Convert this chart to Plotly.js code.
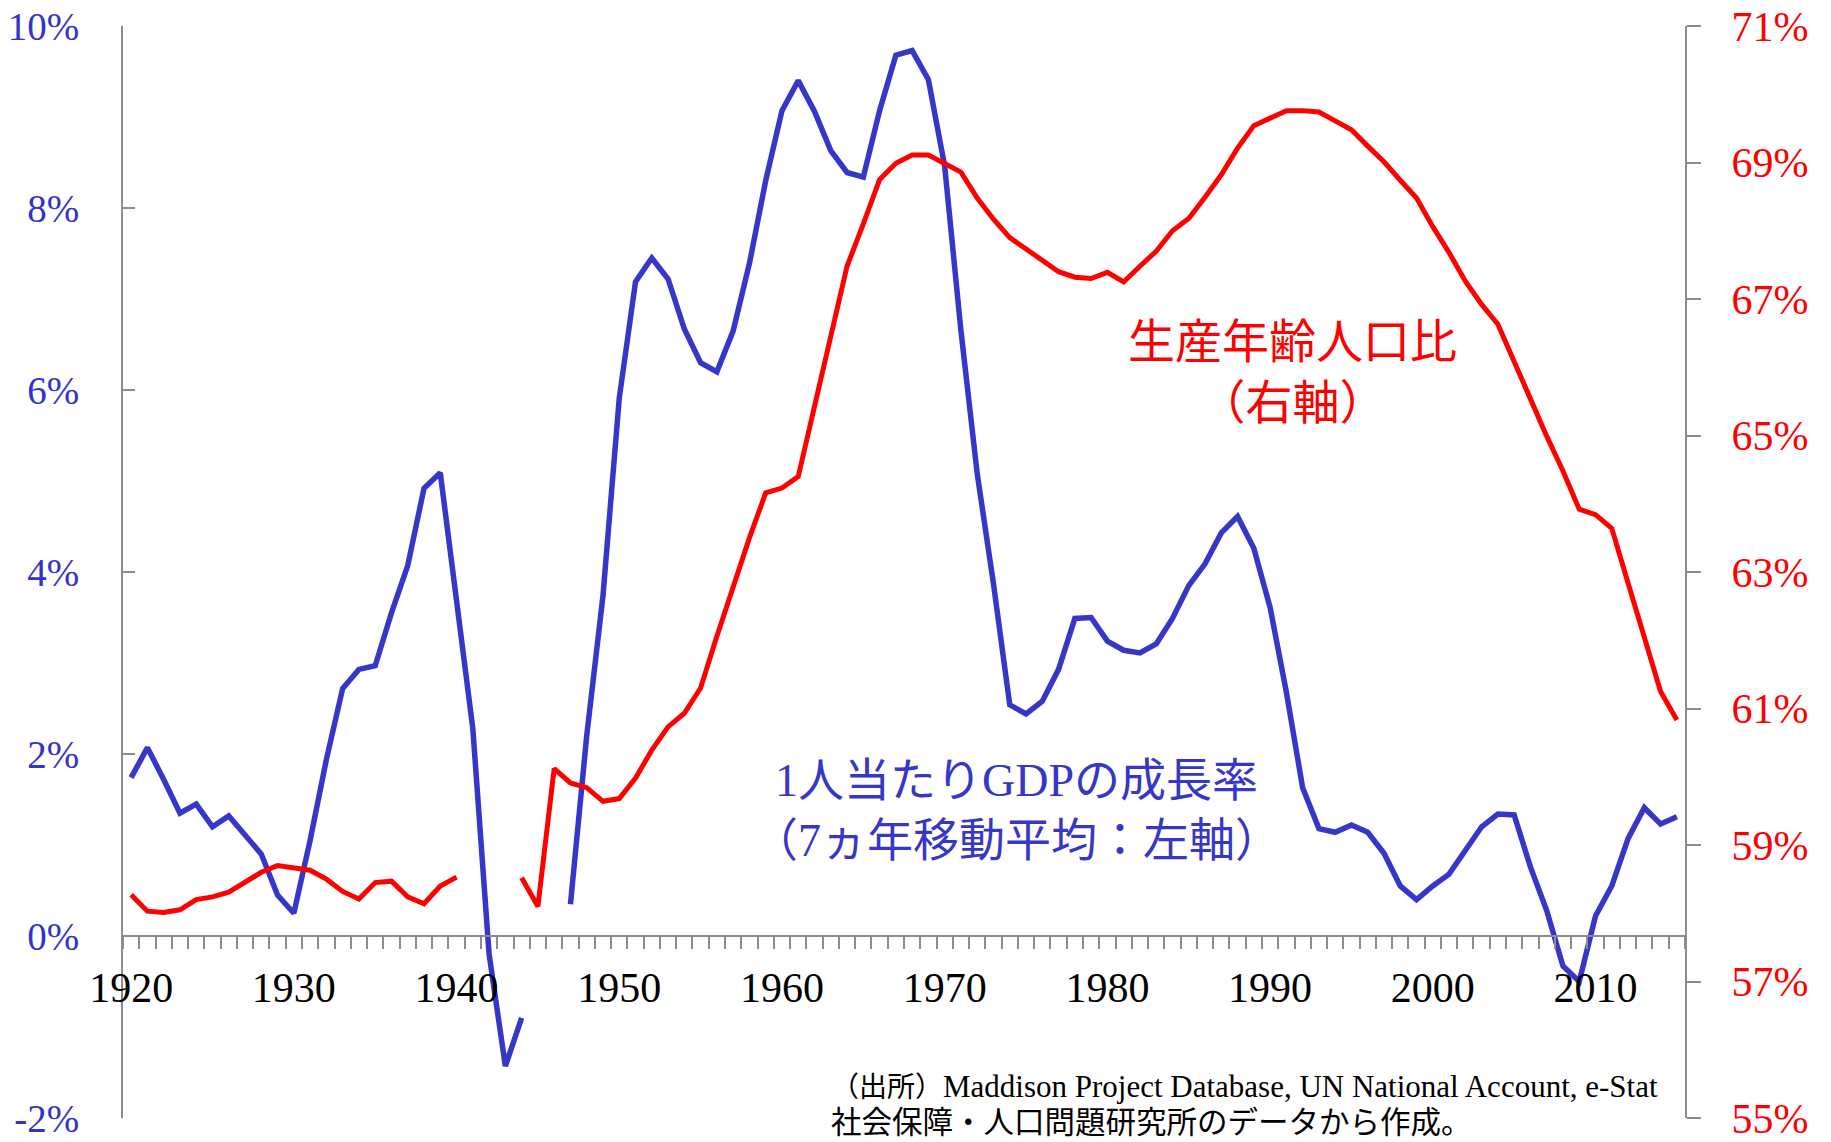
<!DOCTYPE html>
<html>
<head>
<meta charset="utf-8">
<script src="https://cdn.plot.ly/plotly-3.0.1.min.js"></script>
<style>
  html, body { margin: 0; padding: 0; background: #ffffff; }
  #chart { width: 1831px; height: 1142px; }
</style>
</head>
<body>
<div id="chart"></div>
<script>
// ---- data ----
const firstYear = 1920;
const lastYear = 2015;
const years = [];
for (let y = firstYear; y <= lastYear; y++) years.push(y);

// 1人当たりGDPの成長率（7ヵ年移動平均, %）  1920–2015
const gdpGrowth = [
  1.74, 2.07, 1.72, 1.35, 1.45, 1.20, 1.32, 1.10, 0.90, 0.45,   // 1920-1929
  0.25, 1.05, 1.94, 2.72, 2.93, 2.97, 3.55, 4.07, 4.92, 5.09,   // 1930-1939
  3.70, 2.28, -0.20, -1.43, -0.90, null, null, 0.35, 2.20, 3.74, // 1940-1949
  5.91, 7.19, 7.45, 7.22, 6.67, 6.30, 6.20, 6.65, 7.39, 8.30,   // 1950-1959
  9.07, 9.40, 9.06, 8.63, 8.39, 8.34, 9.07, 9.68, 9.73, 9.41,   // 1960-1969
  8.46, 6.65, 5.08, 3.87, 2.54, 2.44, 2.58, 2.93, 3.49, 3.50,   // 1970-1979
  3.24, 3.14, 3.11, 3.21, 3.49, 3.85, 4.09, 4.43, 4.61, 4.26,   // 1980-1989
  3.61, 2.68, 1.63, 1.18, 1.14, 1.22, 1.14, 0.91, 0.55, 0.40,   // 1990-1999
  0.55, 0.68, 0.95, 1.20, 1.34, 1.33, 0.76, 0.28, -0.33, -0.50, // 2000-2009
  0.22, 0.55, 1.07, 1.41, 1.23, 1.31                            // 2010-2015
];

// 生産年齢人口比（%）  1920–2015
const workingAgeRatio = [
  58.27, 58.03, 58.01, 58.05, 58.20, 58.24, 58.31, 58.46, 58.60, 58.70, // 1920-1929
  58.67, 58.63, 58.50, 58.32, 58.21, 58.45, 58.47, 58.24, 58.14, 58.40, // 1930-1939
  58.53, null, null, null, 58.52, 58.10, 60.12, 59.91, 59.84, 59.64,    // 1940-1949
  59.68, 59.98, 60.39, 60.73, 60.93, 61.30, 62.06, 62.80, 63.50, 64.16, // 1950-1959
  64.23, 64.40, 65.43, 66.50, 67.48, 68.10, 68.75, 68.99, 69.11, 69.11, // 1960-1969
  68.99, 68.86, 68.48, 68.17, 67.90, 67.73, 67.55, 67.40, 67.32, 67.30, // 1970-1979
  67.39, 67.25, 67.48, 67.70, 68.00, 68.18, 68.49, 68.82, 69.21, 69.54, // 1980-1989
  69.65, 69.76, 69.76, 69.74, 69.61, 69.48, 69.24, 69.01, 68.74, 68.48, // 1990-1999
  68.06, 67.68, 67.26, 66.92, 66.63, 66.08, 65.54, 64.99, 64.48, 63.92, // 2000-2009
  63.84, 63.64, 62.84, 62.05, 61.25, 60.83                              // 2010-2015
];

const xTickVals = [1920, 1930, 1940, 1950, 1960, 1970, 1980, 1990, 2000, 2010];
const xTickText = ['1920', '1930', '1940', '1950', '1960', '1970', '1980', '1990', '2000', '2010'];
const leftTickVals = [-2, 0, 2, 4, 6, 8, 10];
const leftTickText = ['-2%', '0%', '2%', '4%', '6%', '8%', '10%'];
const rightTickVals = [55, 57, 59, 61, 63, 65, 67, 69, 71];
const rightTickText = ['55%', '57%', '59%', '61%', '63%', '65%', '67%', '69%', '71%'];

const redLabel = '生産年齢人口比<br>（右軸）';
const serif = "font-family:'Liberation Serif','Times New Roman',serif";
const blueLabel = `<span style="${serif}">1</span>人当たり<span style="${serif}">GDP</span>の成長率<br>（<span style="${serif}">7</span>ヵ年移動平均：左軸）`;
const sourceLine1 = `（出所）<span style="${serif};font-size:31px">Maddison Project Database, UN National Account, e-Stat</span>`;
const sourceLine2 = '<span style="font-size:30.5px">社会保障・人口問題研究所のデータから作成。</span>';

// ---- layout geometry ----
const W = 1831, H = 1142;
const M = { l: 123, r: 146, t: 26, b: 24 };
const px = (x) => (x - M.l) / (W - M.l - M.r);
const py = (y) => (H - M.b - y) / (H - M.t - M.b);

const BLUE = '#3636C8';
const RED = '#FF0000';
const AXIS = '#8C8C8C';
const SERIF = "'Liberation Serif', 'Times New Roman', serif";
const GOTHIC = "'Noto Sans CJK JP', 'Noto Sans', sans-serif";

const traces = [
  {
    x: years, y: workingAgeRatio, yaxis: 'y2', type: 'scatter', mode: 'lines',
    line: { color: RED, width: 5 }, connectgaps: false, hoverinfo: 'skip'
  },
  {
    x: years, y: gdpGrowth, yaxis: 'y', type: 'scatter', mode: 'lines',
    line: { color: BLUE, width: 5.5 }, connectgaps: false, hoverinfo: 'skip'
  }
];

const layout = {
  width: W, height: H,
  margin: M,
  paper_bgcolor: '#ffffff', plot_bgcolor: '#ffffff',
  showlegend: false,
  xaxis: {
    type: 'linear', range: [firstYear - 0.5, lastYear + 0.5],
    anchor: 'free', position: 2 / 12,
    showline: true, linecolor: AXIS, linewidth: 2,
    showgrid: false, zeroline: false,
    tickmode: 'array', tickvals: xTickVals, ticktext: xTickText,
    ticks: '', ticklabelstandoff: 15,
    tickfont: { family: SERIF, size: 42, color: '#000000' },
    minor: { ticks: 'outside', tick0: firstYear - 0.5, dtick: 1, ticklen: 12, tickwidth: 2, tickcolor: AXIS, showgrid: false },
    automargin: false, fixedrange: true
  },
  yaxis: {
    range: [-2, 10],
    tickmode: 'array', tickvals: leftTickVals, ticktext: leftTickText,
    ticks: 'inside', ticklen: 12, tickwidth: 2, tickcolor: AXIS,
    showline: true, linecolor: AXIS, linewidth: 2,
    showgrid: false, zeroline: false,
    ticklabelstandoff: 34,
    tickfont: { family: SERIF, size: 39, color: '#3333CC' },
    automargin: false, fixedrange: true
  },
  yaxis2: {
    range: [55, 71], overlaying: 'y', side: 'right',
    tickmode: 'array', tickvals: rightTickVals, ticktext: rightTickText,
    ticks: 'outside', ticklen: 14, tickwidth: 2, tickcolor: AXIS,
    showline: true, linecolor: AXIS, linewidth: 2,
    showgrid: false, zeroline: false,
    ticklabelstandoff: 22,
    tickfont: { family: SERIF, size: 42, color: RED },
    automargin: false, fixedrange: true
  },
  annotations: [
    {
      xref: 'paper', yref: 'paper', x: px(1292), y: py(368),
      xanchor: 'center', yanchor: 'middle', align: 'center', showarrow: false,
      text: redLabel, font: { family: GOTHIC, size: 47, color: RED }
    },
    {
      xref: 'paper', yref: 'paper', x: px(1016), y: py(806),
      xanchor: 'center', yanchor: 'middle', align: 'center', showarrow: false,
      text: blueLabel, font: { family: GOTHIC, size: 46, color: BLUE }
    },
    {
      xref: 'paper', yref: 'paper', x: px(830), y: py(1103),
      xanchor: 'left', yanchor: 'middle', align: 'left', showarrow: false, borderpad: 0,
      text: sourceLine1 + '<br>' + sourceLine2,
      font: { family: GOTHIC, size: 28, color: '#000000' }
    }
  ]
};

Plotly.newPlot('chart', traces, layout, { staticPlot: true, displayModeBar: false });
</script>
</body>
</html>
